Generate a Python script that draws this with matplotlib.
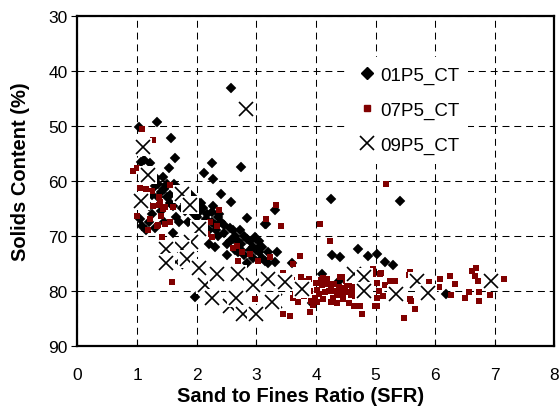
import matplotlib
matplotlib.use('Agg')
import matplotlib.pyplot as plt
from matplotlib.lines import Line2D

plt.rcParams['font.family'] = ['Liberation Sans', 'DejaVu Sans']
plt.rcParams['lines.scale_dashes'] = False

series_names = ['01P5_CT', '07P5_CT', '09P5_CT']

# 01P5_CT (diamonds)
s01_x = [2.58, 1.03, 1.33, 1.57, 1.63, 1.54, 2.25, 2.13, 2.28, 2.74, 2.40, 2.57, 2.84, 3.31, 3.16,
         1.09, 1.06, 1.12, 1.22, 1.44, 4.25, 5.41, 6.18, 1.97, 3.93, 4.10, 4.38, 4.27, 4.40, 4.71,
         4.88, 5.02, 5.15, 5.29, 3.31, 3.59, 2.73, 2.98, 3.06, 2.25, 3.15,
         1.15, 1.20, 1.25, 1.30, 1.35, 1.40, 1.45, 1.50, 1.55, 1.60, 1.65, 1.70, 1.75, 1.80, 1.85,
         1.90, 1.95, 2.00, 2.05, 2.10, 2.15, 2.20, 2.30, 2.35, 2.40, 2.45, 2.50, 2.55, 2.60, 2.65,
         2.70, 2.75, 2.80, 2.85, 2.90, 2.95, 3.00, 3.05, 3.10, 3.15, 1.30, 1.60, 1.90, 2.20, 2.50, 2.85,
         2.60, 2.70, 2.80, 2.90, 3.00, 3.10, 3.20, 2.65, 2.75, 2.95, 3.05, 2.55, 2.45, 2.35, 2.25,
         2.15, 2.05, 1.95, 1.85, 1.75, 1.65, 1.55, 1.45, 1.35, 1.25, 1.40, 1.50, 1.70, 2.00, 2.30,
         3.20, 3.35, 1.05, 1.15, 1.20, 1.98, 2.08, 2.18, 2.28, 2.38, 2.12, 2.32, 1.32, 1.48, 1.62]
s01_y = [43.1, 50.2, 49.2, 52.1, 55.9, 57.7, 56.8, 58.5, 59.6, 57.5, 62.4, 63.9, 66.7, 65.2, 67.9,
         68.1, 56.5, 56.2, 56.8, 59.3, 63.3, 63.6, 80.5, 81.1, 82.2, 76.9, 78.1, 73.4, 73.9, 72.4,
         73.6, 73.3, 74.8, 75.2, 74.8, 74.9, 69.0, 70.2, 71.8, 65.7, 67.8,
         62.5, 64.5, 66.0, 61.0, 63.0, 65.5, 67.5, 60.5, 62.5, 64.5, 66.5, 61.5, 63.5, 65.5, 67.5,
         62.5, 64.5, 66.5, 68.5, 65.0, 67.0, 69.0, 68.0, 70.0, 67.5, 69.5, 71.5, 68.5, 70.5, 72.5,
         71.0, 71.5, 73.5, 70.5, 72.5, 74.0, 72.5, 73.0, 72.0, 74.5, 68.5, 69.5, 70.5, 71.5, 73.5, 75.0,
         69.0, 73.0, 70.0, 71.0, 70.5, 74.0, 73.0, 70.0, 72.5, 72.0, 71.0, 71.0, 68.0, 66.5, 67.5,
         68.5, 65.5, 66.0, 64.0, 65.0, 62.5, 64.0, 61.5, 60.5, 62.5, 62.0, 63.0, 67.5, 69.5, 72.0,
         75.0, 73.0, 67.0, 69.0, 67.5, 63.5, 64.0, 66.0, 64.5, 66.0, 69.5, 69.0, 59.5, 61.0, 60.5]

# 07P5_CT (squares)
s07_x = [1.08, 1.27, 0.93, 0.99, 1.05, 1.15, 1.25, 0.99, 1.22, 1.19, 1.34, 1.36, 1.36, 1.47, 1.55,
         1.61, 1.40, 1.55, 1.27, 1.38, 1.44, 1.35, 1.47, 1.41, 1.58, 1.80, 2.38, 2.22, 2.34, 2.17,
         2.25, 2.61, 2.76, 2.89, 3.23, 2.67, 2.70, 3.03, 3.33, 3.17, 3.41, 4.06, 4.24, 3.73, 3.62,
         3.45, 2.98, 3.44, 3.57, 3.90, 5.18,
         3.60, 3.65, 3.70, 3.75, 3.80, 3.85, 3.90, 3.95, 4.00, 4.05, 4.10, 4.12, 4.18, 4.22, 4.25,
         4.30, 4.35, 4.40, 4.42, 4.45, 4.50, 4.52, 4.55, 4.60, 4.65, 4.63, 4.77, 4.40, 4.45, 3.55,
         3.68, 3.78, 3.88, 3.98, 4.08, 4.15, 4.28, 4.38, 4.48, 4.58, 4.70, 4.74, 4.96,
         4.96, 5.09, 5.02, 5.05, 5.03, 5.24, 5.33, 5.58, 5.59, 5.66, 5.47, 6.08, 6.25, 6.33, 6.07,
         6.27, 6.61, 6.69, 6.67, 6.72, 6.57, 6.50, 6.74, 6.74, 6.92, 7.16, 5.02, 5.90, 4.52, 5.08,
         4.99, 5.56, 5.58, 4.85, 4.88, 4.75, 5.15, 5.25, 5.40, 5.12,
         3.62, 3.72, 3.82, 3.92, 4.02, 4.12, 4.20, 4.32, 4.36, 4.46, 4.56, 4.62, 4.68, 4.02, 3.86,
         4.26]
s07_y = [50.6, 52.5, 58.1, 57.7, 61.2, 61.5, 61.8, 66.3, 66.9, 69.0, 68.1, 63.0, 64.4, 64.8, 60.8,
         64.8, 66.4, 67.5, 64.5, 63.9, 65.1, 68.0, 67.8, 70.1, 78.4, 74.1, 65.3, 67.5, 68.1, 69.6,
         70.2, 72.1, 73.0, 73.3, 73.9, 71.8, 74.5, 74.5, 64.4, 66.9, 68.1, 67.8, 71.0, 73.6, 75.1,
         76.7, 81.5, 84.2, 84.5, 83.9, 60.5,
         78.0, 80.5, 82.0, 77.5, 81.0, 79.0, 80.0, 82.5, 78.5, 80.5, 79.0, 81.5, 77.8, 80.0, 82.0,
         78.8, 80.8, 77.5, 79.5, 81.5, 78.2, 80.2, 82.2, 79.2, 81.0, 82.7, 84.2, 80.5, 77.5, 79.5,
         78.8, 79.8, 77.8, 81.2, 78.0, 80.2, 81.2, 79.2, 79.8, 80.8, 78.5, 82.7, 76.0,
         76.9, 76.8, 78.5, 80.0, 81.3, 78.1, 78.1, 76.5, 81.8, 83.3, 85.0, 77.8, 77.2, 78.7, 79.3,
         80.7, 76.3, 75.9, 77.2, 78.1, 80.2, 81.3, 80.2, 81.9, 80.7, 77.8, 82.7, 78.3, 79.0, 76.9,
         82.7, 77.1, 81.5, 76.5, 79.0, 80.8, 79.0, 80.5, 79.5, 81.0,
         81.2, 79.2, 78.2, 81.8, 79.8, 77.6, 78.8, 80.0, 82.2, 80.6, 78.6, 80.2, 79.6, 82.0, 80.4,
         79.4]

# 09P5_CT (crosses)
s09_x = [2.83, 1.10, 1.19, 1.07, 1.75, 1.88, 2.03, 1.90, 1.75, 1.48, 1.66, 1.83, 1.48, 2.04, 2.14,
         2.34, 2.70, 2.95, 3.20, 3.48, 3.76, 2.25, 2.56, 2.66, 3.31, 3.26, 2.77, 3.00, 4.63, 4.80,
         4.81, 5.34, 5.70, 5.88, 6.94]
s09_y = [46.9, 53.8, 59.0, 63.7, 62.4, 64.4, 68.7, 71.1, 72.4, 72.3, 74.8, 74.2, 74.9, 75.9, 78.9,
         77.0, 77.0, 78.9, 77.8, 78.4, 79.7, 81.2, 82.8, 81.3, 81.8, 82.0, 84.1, 84.2, 76.9, 77.5,
         80.0, 80.5, 78.1, 80.4, 78.2]

x_ticks = [0, 1, 2, 3, 4, 5, 6, 7, 8]
y_ticks = [30, 40, 50, 60, 70, 80, 90]

fig = plt.figure(figsize=(5.59, 4.10), dpi=100)
fig.patch.set_facecolor('white')
ax = fig.add_axes([0.1386, 0.1537, 0.8533, 0.8049])

ax.plot(s01_x, s01_y, 'D', color='black', markersize=5.6, markeredgewidth=0.3,
        linestyle='none', zorder=3)
ax.plot(s07_x, s07_y, 's', color='#800000', markersize=4.6, markeredgewidth=0,
        linestyle='none', zorder=4)
for xv, yv in zip(s09_x, s09_y):
    ax.plot([xv], [yv], 's', color='white', markersize=12.5, markeredgewidth=0, zorder=5)
    ax.plot([xv], [yv], 'x', color='black', markersize=10.5, markeredgewidth=1.2, zorder=5)

ax.set_xlim(0, 8)
ax.set_ylim(90, 30)
ax.set_xticks(x_ticks)
ax.set_yticks(y_ticks)
ax.grid(True, color='black', linewidth=0.75, linestyle=(0, (5, 3.5)), zorder=1)
ax.set_axisbelow(True)

for sp in ax.spines.values():
    sp.set_linewidth(1.6)
    sp.set_zorder(6)

ax.tick_params(axis='x', direction='in', length=4, width=0.8, pad=15, labelsize=12.5)
ax.tick_params(axis='y', direction='out', length=4, width=0.8, pad=3, labelsize=12.5)

ax.set_xlabel('Sand to Fines Ratio (SFR)', fontsize=14.5, fontweight='bold')
ax.set_ylabel('Solids Content (%)', fontsize=14.5, fontweight='bold')
ax.xaxis.set_label_coords(0.467, -0.122)
ax.yaxis.set_label_coords(-0.099, 0.531)

handles = [
    Line2D([], [], marker='D', color='black', linestyle='none', markersize=6.5),
    Line2D([], [], marker='s', color='#800000', linestyle='none', markersize=5),
    Line2D([], [], marker='x', color='black', linestyle='none', markersize=10.5, markeredgewidth=1.2),
]
leg = ax.legend(handles, series_names, loc='upper left', bbox_to_anchor=(0.567, 0.875),
                frameon=True, fontsize=13.5, handlelength=1.0, handletextpad=0.2,
                labelspacing=0.95, borderpad=0.5, borderaxespad=0, fancybox=False)
leg.get_frame().set_facecolor('white')
leg.get_frame().set_edgecolor('none')
leg.get_frame().set_alpha(1.0)
leg.set_zorder(7)

fig.savefig('out.png', dpi=100, facecolor='white')
